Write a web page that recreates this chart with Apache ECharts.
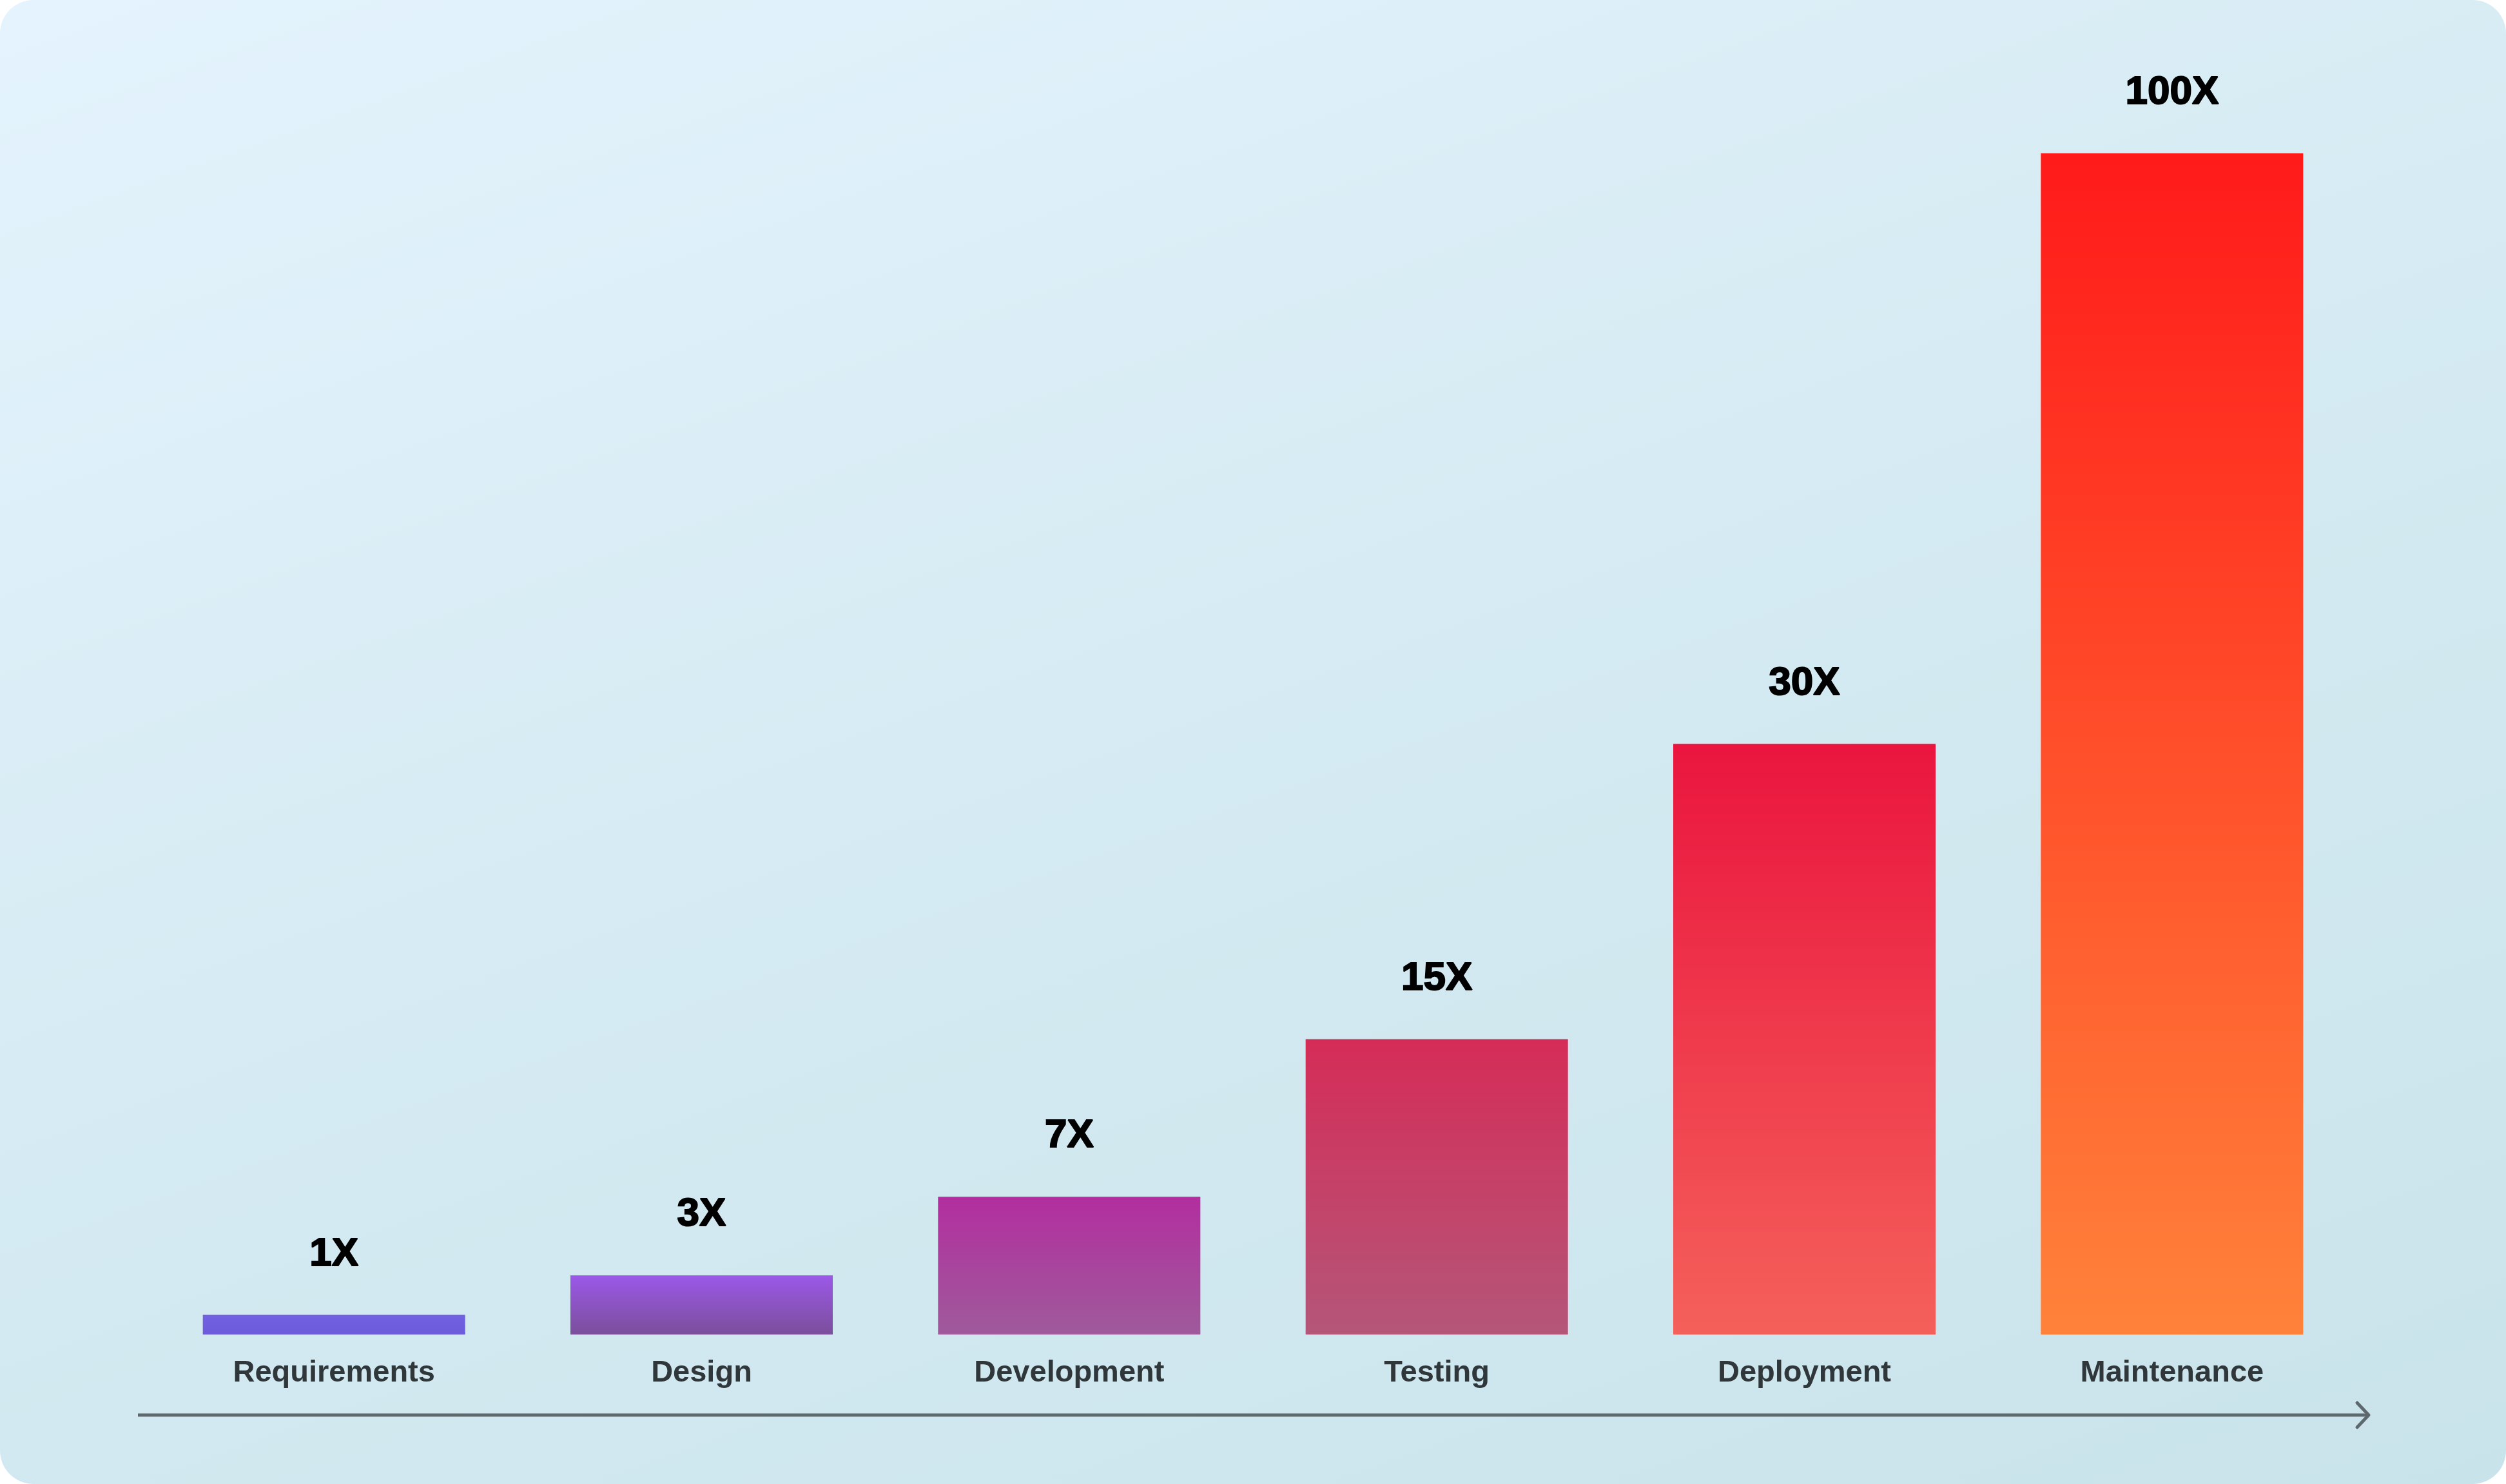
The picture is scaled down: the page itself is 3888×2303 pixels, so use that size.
<!DOCTYPE html>
<html>
  <head>
    <meta charset="utf-8" />
    <title>Cost of fixing a defect by phase</title>
    <script src="https://cdn.jsdelivr.net/npm/echarts@6/dist/echarts.min.js"></script>
    <style>
      html, body { margin: 0; padding: 0; background: #ffffff; }
      #main {
        width: 3888px; height: 2303px;
        border-radius: 52px;
        overflow: hidden;
        background: linear-gradient(160deg, #e4f3fd 0%, #d6ebf3 45%, #c9e3ea 100%);
      }
    </style>
  </head>
  <body>
    <div id="main"></div>
    <script type="text/javascript">
      // phases along the arrow
      var phases = ['Requirements', 'Design', 'Development', 'Testing', 'Deployment', 'Maintenance'];
      // bar heights as drawn (the 100X bar is drawn shorter than to scale)
      var barHeights = [1, 3, 7, 15, 30, 60];
      // labels shown above the bars
      var costLabels = ['1X', '3X', '7X', '15X', '30X', '100X'];
      // top / bottom colour of each bar
      var barColors = [
        ['#7262e2', '#6c5cdc'],
        ['#9b58e8', '#7b4f9b'],
        ['#b22e9f', '#9f5a9b'],
        ['#d52c57', '#b45679'],
        ['#ea153e', '#f4605a'],
        ['#ff1a1a', '#ff823a']
      ];

      var myChart = echarts.init(document.getElementById('main'));

      var seriesData = barHeights.map(function (v, i) {
        return {
          value: v,
          itemStyle: {
            color: new echarts.graphic.LinearGradient(0, 0, 0, 1, [
              { offset: 0, color: barColors[i][0] },
              { offset: 1, color: barColors[i][1] }
            ])
          }
        };
      });

      myChart.setOption({
        backgroundColor: 'transparent',
        grid: { left: 233, right: 233, top: 238, bottom: 232 },
        xAxis: {
          type: 'category',
          data: phases,
          axisLine: { show: false },
          axisTick: { show: false },
          axisLabel: {
            margin: 37,
            fontFamily: 'Liberation Sans',
            fontWeight: 'bold',
            fontSize: 47,
            color: '#30373a'
          }
        },
        yAxis: {
          type: 'value',
          min: 0,
          max: 60,
          show: false,
          splitLine: { show: false }
        },
        series: [
          {
            type: 'bar',
            barWidth: 407,
            data: seriesData,
            label: {
              show: true,
              position: 'top',
              distance: 63,
              formatter: function (p) { return costLabels[p.dataIndex]; },
              fontFamily: 'Liberation Sans',
              fontWeight: 'bold',
              fontSize: 62,
              color: '#000000',
              textBorderColor: '#000000',
              textBorderWidth: 2
            }
          }
        ],
        // timeline arrow under the labels
        graphic: [
          {
            type: 'group',
            children: [
              {
                type: 'line',
                shape: { x1: 214, y1: 2196, x2: 3672, y2: 2196 },
                style: { stroke: '#5e696d', lineWidth: 5 }
              },
              {
                type: 'polyline',
                shape: { points: [[3657, 2177], [3675, 2196], [3657, 2215]] },
                style: { stroke: '#5e696d', lineWidth: 5, fill: null, lineCap: 'round', lineJoin: 'round' }
              }
            ]
          }
        ]
      });
    </script>
  </body>
</html>
